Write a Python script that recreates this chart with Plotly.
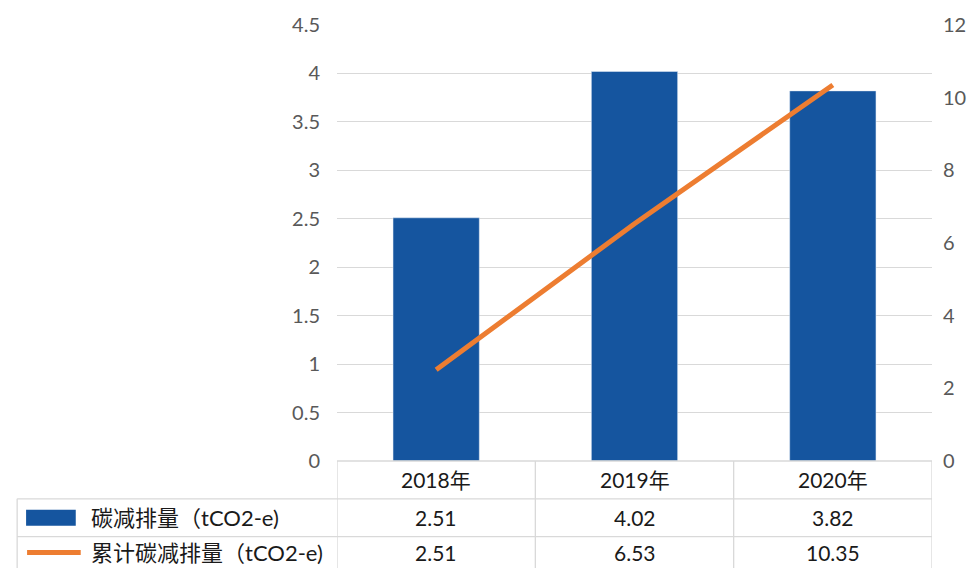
import plotly.graph_objects as go

categories = ["2018年", "2019年", "2020年"]
annual = [2.51, 4.02, 3.82]
cumulative = [2.51, 6.53, 10.35]
annual_labels = ["2.51", "4.02", "3.82"]
cumulative_labels = ["2.51", "6.53", "10.35"]
series_names = ["碳减排量（tCO2-e)", "累计碳减排量（tCO2-e)"]
left_ticks = [0, 0.5, 1, 1.5, 2, 2.5, 3, 3.5, 4, 4.5]
right_ticks = [0, 2, 4, 6, 8, 10, 12]

W, H = 978, 568
L, R, T, B = 337, 42, 23, 107
PH = H - T - B
PW = W - L - R

BLUE = "#15559F"
ORANGE = "#ED7D31"
GRID = "#D9D9D9"
FONT = "Lato, Noto Sans CJK SC, sans-serif"

def py(pix):
    return (H - B - pix) / PH

def px(pix):
    return (pix - L) / PW

fig = go.Figure()
fig.add_trace(go.Bar(x=categories, y=annual, marker_color=BLUE, width=0.435,
                     name=series_names[0], yaxis="y"))
fig.add_trace(go.Scatter(x=categories, y=cumulative, mode="lines",
                         line=dict(color=ORANGE, width=5), name=series_names[1],
                         yaxis="y2"))

shapes = []
line = dict(color=GRID, width=1.3)
shapes.append(dict(type="line", xref="x", yref="paper", x0=-0.5, x1=2.5, y0=0, y1=0, line=line))
for yy in [499, 537]:
    shapes.append(dict(type="line", xref="paper", yref="paper", x0=px(15), x1=1, y0=py(yy), y1=py(yy), line=line))
for xb in [-0.5, 0.5, 1.5, 2.5]:
    shapes.append(dict(type="line", xref="x", yref="paper", x0=xb, x1=xb, y0=0, y1=py(570), line=line))
shapes.append(dict(type="line", xref="paper", yref="paper", x0=px(15), x1=px(15), y0=py(499), y1=py(570), line=line))
shapes.append(dict(type="rect", xref="paper", yref="paper", x0=px(24), x1=px(74), y0=py(526), y1=py(510),
                   fillcolor=BLUE, line=dict(width=0)))
shapes.append(dict(type="line", xref="paper", yref="paper", x0=px(25), x1=px(79), y0=py(553), y1=py(553),
                   line=dict(color=ORANGE, width=5)))

annotations = []
tf = dict(family=FONT, size=21, color="#1a1a1a")
lf = dict(family=FONT, size=22, color="#1a1a1a")
for i, c in enumerate(categories):
    for yy, txt in [(480, c), (518, annual_labels[i]), (553, cumulative_labels[i])]:
        annotations.append(dict(x=c, xref="x", y=py(yy), yref="paper", text=txt, showarrow=False,
                                xanchor="center", yanchor="middle", font=tf))
annotations.append(dict(x=px(87), xref="paper", y=py(518), yref="paper", text=series_names[0], showarrow=False,
                        xanchor="left", yanchor="middle", font=lf))
annotations.append(dict(x=px(87), xref="paper", y=py(553), yref="paper", text=series_names[1], showarrow=False,
                        xanchor="left", yanchor="middle", font=lf))

tickfont = dict(family=FONT, size=20, color="#595959")
fig.update_layout(
    width=W, height=H,
    margin=dict(l=L, r=R, t=T, b=B, pad=0),
    paper_bgcolor="white", plot_bgcolor="white",
    showlegend=False,
    xaxis=dict(showticklabels=False, showgrid=False, zeroline=False, showline=False, ticks="",
               range=[-0.5, 2.5]),
    yaxis=dict(range=[0, 4.5], tickvals=left_ticks, ticktext=[f"{v:g}" for v in left_ticks],
               showgrid=True, gridcolor=GRID, gridwidth=1.3, zeroline=False, showline=False,
               ticks="", tickfont=tickfont, ticklabelstandoff=16),
    yaxis2=dict(range=[0, 12], tickvals=right_ticks, overlaying="y", side="right",
                showgrid=False, zeroline=False, showline=False, ticks="", tickfont=tickfont,
                ticklabelstandoff=10),
    shapes=shapes,
    annotations=annotations,
)

fig.write_html("out.html")
